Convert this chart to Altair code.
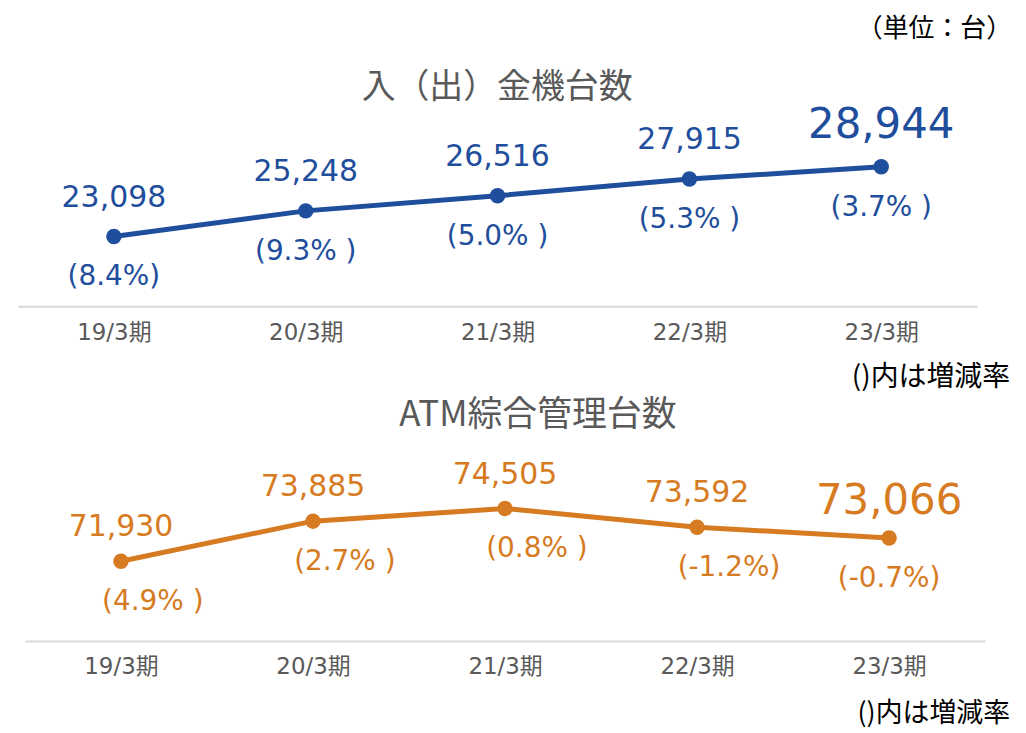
import altair as alt
import pandas as pd

periods = ["19/3期", "20/3期", "21/3期", "22/3期", "23/3期"]
deposit_units = [23098, 25248, 26516, 27915, 28944]
deposit_growth = ["(8.4%)", "(9.3% )", "(5.0% )", "(5.3% )", "(3.7% )"]
atm_units = [71930, 73885, 74505, 73592, 73066]
atm_growth = ["(4.9% )", "(2.7% )", "(0.8% )", "(-1.2%)", "(-0.7%)"]

title_top = "入（出）金機台数"
title_bottom = "ATM綜合管理台数"
unit_note = "（単位：台）"
growth_note = "()内は増減率"

BLUE = "#1F4E9C"
ORANGE = "#D77B22"
GRAY = "#595959"
NUM_FONT = "DejaVu Sans, Noto Sans CJK JP"
JP_FONT = "Noto Sans CJK JP"


def make_df(values, growth):
    return pd.DataFrame({
        "period": periods,
        "value": values,
        "label": [f"{v:,}" for v in values],
        "growth": growth,
        "idx": list(range(len(periods))),
    })


def note(text, x, y, size, color, align="center", font=JP_FONT):
    return alt.Chart(pd.DataFrame({"t": [text]})).mark_text(
        align=align, baseline="middle", font=font, fontSize=size, color=color
    ).encode(x=alt.value(x), y=alt.value(y), text="t:N")


def panel(df, color, ydomain, width, height, xrange, pct_dx, pct_dy, val_dy, notes):
    xscale = alt.Scale(type="point", padding=0.5)
    if xrange is not None:
        xscale = alt.Scale(type="point", padding=0.5, range=xrange)
    base = alt.Chart(df).encode(
        x=alt.X("period:N", sort=periods, scale=xscale,
                axis=alt.Axis(title=None, labelAngle=0, domainColor="#D9D9D9",
                              domainWidth=2, ticks=False, tickSize=0, labelPadding=15,
                              labelFont=NUM_FONT, labelFontSize=23, labelColor=GRAY,
                              grid=False)),
        y=alt.Y("value:Q", scale=alt.Scale(domain=ydomain, nice=False, zero=False), axis=None),
    )
    line = base.mark_line(color=color, strokeWidth=5)
    pts = base.mark_circle(color=color, size=240, opacity=1)
    vals = base.transform_filter("datum.idx < 4").mark_text(
        dy=val_dy, font=NUM_FONT, fontSize=30, color=color).encode(text="label:N")
    big = base.transform_filter("datum.idx == 4").mark_text(
        dy=val_dy - 3, font=NUM_FONT, fontSize=42, color=color).encode(text="label:N")
    pcts_a = base.transform_filter("datum.idx < 4").mark_text(
        dx=pct_dx[0], dy=pct_dy, font=NUM_FONT, fontSize=28, color=color).encode(text="growth:N")
    pcts_b = base.transform_filter("datum.idx == 4").mark_text(
        dx=pct_dx[1], dy=pct_dy, font=NUM_FONT, fontSize=28, color=color).encode(text="growth:N")
    return alt.layer(line, pts, vals, big, pcts_a, pcts_b, *notes).properties(
        width=width, height=height)


df1 = make_df(deposit_units, deposit_growth)
df2 = make_df(atm_units, atm_growth)

top = panel(
    df1, BLUE, [17250, 42140], 963, 298, None, (0, 0), 41, -39,
    [note(unit_note, 998, 20, 26, "#000000", align="right"),
     note(title_top, 481, 79, 34, GRAY)],
)

bottom = panel(
    df2, ORANGE, [68043, 82134], 971, 290, [7, 971], (32, 0), 41, -34,
    [note(growth_note, 996, 26, 28, "#000000", align="right"),
     note(title_bottom, 522, 63, 35, GRAY),
     note(growth_note, 996, 363, 27, "#000000", align="right")],
)

chart = alt.vconcat(top, bottom, spacing=8).properties(
    padding={"left": 10, "top": 0, "right": 6, "bottom": 3},
    background="white",
).configure_view(stroke=None)

chart.save("out.html", embed_options={"renderer": "svg", "actions": False})
